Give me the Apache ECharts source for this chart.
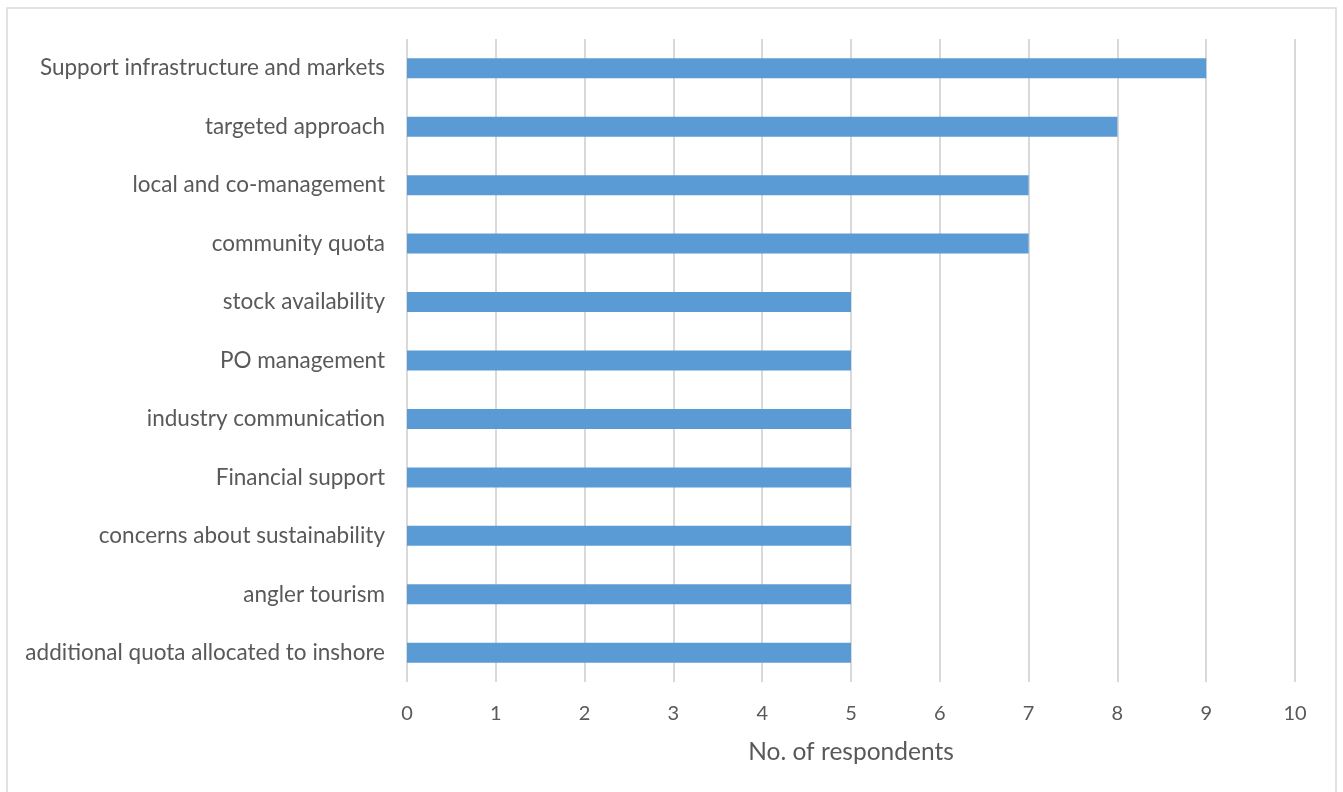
<!DOCTYPE html>
<html>
<head>
<meta charset="utf-8">
<script src="https://cdn.jsdelivr.net/npm/echarts@6/dist/echarts.min.js"></script>
<style>
  html, body { margin: 0; padding: 0; background: #fff; }
  #chart { width: 1343px; height: 792px; }
</style>
</head>
<body>
<div id="chart"></div>
<script>
// Responses grouped by theme, top to bottom
const categories = [
  'Support infrastructure and markets',
  'targeted approach',
  'local and co-management',
  'community quota',
  'stock availability',
  'PO management',
  'industry communication',
  'Financial support',
  'concerns about sustainability',
  'angler tourism',
  'additional quota allocated to inshore'
];
const respondents = [9, 8, 7, 7, 5, 5, 5, 5, 5, 5, 5];
const xTicks = [0, 1, 2, 3, 4, 5, 6, 7, 8, 9, 10];

const FONT = 'Lato, "Open Sans", sans-serif';
const TEXT = '#595959';

const chart = echarts.init(document.getElementById('chart'));
chart.setOption({
  animation: false,
  graphic: [{
    type: 'rect',
    shape: { x: 7, y: 8, width: 1329, height: 800 },
    style: { fill: 'none', stroke: '#d9d9d9', lineWidth: 1.5 },
    silent: true
  }],
  grid: { left: 407, right: 48, top: 39, bottom: 110 },
  xAxis: {
    type: 'value',
    min: xTicks[0],
    max: xTicks[xTicks.length - 1],
    interval: 1,
    name: 'No. of respondents',
    nameLocation: 'middle',
    nameGap: 58,
    nameTextStyle: { fontFamily: FONT, fontSize: 24.5, color: TEXT },
    axisLine: { show: false },
    axisTick: { show: false },
    axisLabel: { fontFamily: FONT, fontSize: 20, color: TEXT, margin: 22 },
    splitLine: { show: true, lineStyle: { color: '#d9d9d9', width: 2 } }
  },
  yAxis: {
    type: 'category',
    data: categories,
    inverse: true,
    axisLine: { show: false },
    axisTick: { show: false },
    axisLabel: { fontFamily: FONT, fontSize: 22.5, color: TEXT, margin: 22 },
    splitLine: { show: false }
  },
  series: [{
    type: 'bar',
    data: respondents,
    barWidth: 20,
    itemStyle: { color: '#5b9bd5' }
  }]
});
</script>
</body>
</html>
